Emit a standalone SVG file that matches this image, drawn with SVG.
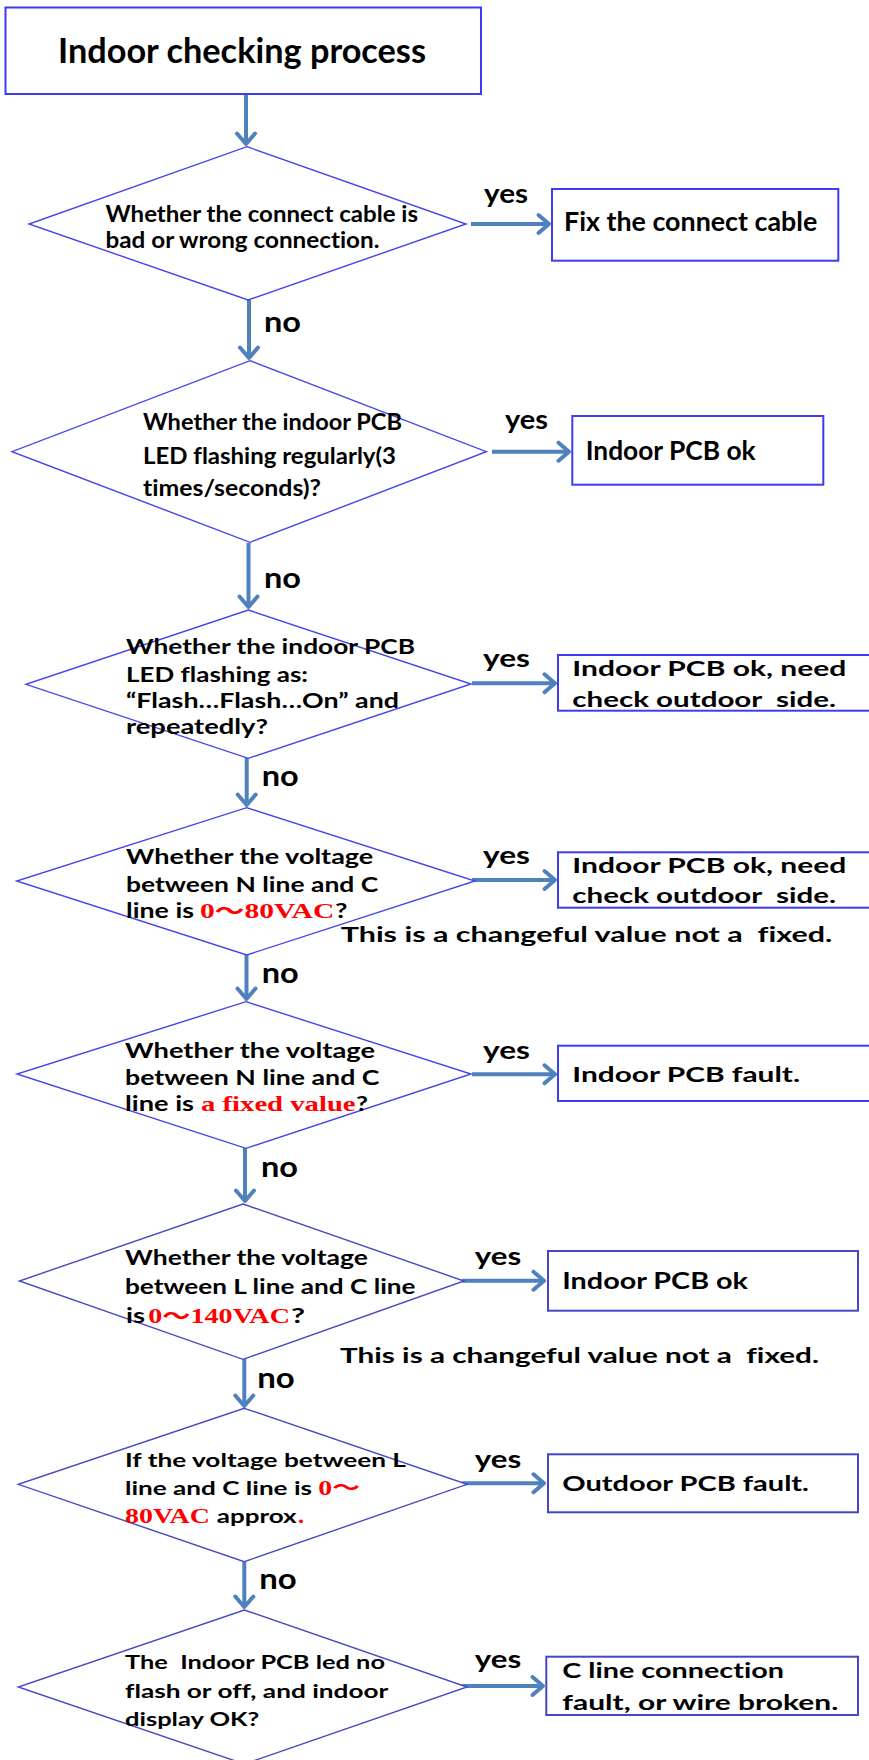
<svg xmlns="http://www.w3.org/2000/svg" width="869" height="1760" viewBox="0 0 869 1760">
<style>
  .box{fill:#fff;stroke:#3c3cf2;stroke-width:2}
  .box2{fill:#fff;stroke:#4646c4;stroke-width:2}
  .dia{fill:#fff;stroke:#4444ee;stroke-width:1.4}
  .dia2{fill:#fff;stroke:#4848c6;stroke-width:1.4}
  .conn{stroke:#4f81bd;stroke-width:4;fill:none}
  text{font-family:Lato,'Liberation Sans',sans-serif;font-weight:bold;fill:#000;font-variant-ligatures:none}
  .red{font-family:'Liberation Serif','Noto Sans CJK SC',serif;fill:#ff0000}
  .pre{white-space:pre}
</style>
<defs>
  <marker id="arr" viewBox="-14 -12 18 24" refX="0" refY="0" markerWidth="18" markerHeight="24" markerUnits="userSpaceOnUse" orient="auto">
    <path d="M-10.5,-9 L0,0 L-10.5,9" fill="none" stroke="#4f81bd" stroke-width="4" stroke-linecap="round" stroke-linejoin="round"/>
  </marker>
</defs>

<rect width="869" height="1760" fill="#fff"/>

<g id="connectors">
  <line class="conn" x1="246" y1="94" x2="246" y2="144" marker-end="url(#arr)"/>
  <line class="conn" x1="249" y1="300" x2="249" y2="358" marker-end="url(#arr)"/>
  <line class="conn" x1="248.5" y1="543" x2="248.5" y2="607" marker-end="url(#arr)"/>
  <line class="conn" x1="246.7" y1="758" x2="246.7" y2="805" marker-end="url(#arr)"/>
  <line class="conn" x1="246.5" y1="955" x2="246.5" y2="999" marker-end="url(#arr)"/>
  <line class="conn" x1="245" y1="1148" x2="245" y2="1201" marker-end="url(#arr)"/>
  <line class="conn" x1="244.3" y1="1359" x2="244.3" y2="1406" marker-end="url(#arr)"/>
  <line class="conn" x1="244.3" y1="1562" x2="244.3" y2="1607" marker-end="url(#arr)"/>

  <line class="conn" x1="471" y1="224" x2="549" y2="224" marker-end="url(#arr)"/>
  <line class="conn" x1="492" y1="451.7" x2="569" y2="451.7" marker-end="url(#arr)"/>
  <line class="conn" x1="472" y1="683.3" x2="555" y2="683.3" marker-end="url(#arr)"/>
  <line class="conn" x1="472" y1="880" x2="555" y2="880" marker-end="url(#arr)"/>
  <line class="conn" x1="472" y1="1074.3" x2="555" y2="1074.3" marker-end="url(#arr)"/>
  <line class="conn" x1="462" y1="1280.7" x2="544" y2="1280.7" marker-end="url(#arr)"/>
  <line class="conn" x1="462" y1="1483.3" x2="544" y2="1483.3" marker-end="url(#arr)"/>
  <line class="conn" x1="462" y1="1686" x2="543" y2="1686" marker-end="url(#arr)"/>

  <text x="484" y="203.3" font-size="26" textLength="44" lengthAdjust="spacingAndGlyphs">yes</text>
  <text x="505" y="429.3" font-size="26" textLength="43" lengthAdjust="spacingAndGlyphs">yes</text>
  <text x="483" y="667.3" font-size="25" textLength="47" lengthAdjust="spacingAndGlyphs">yes</text>
  <text x="483" y="864" font-size="25" textLength="47" lengthAdjust="spacingAndGlyphs">yes</text>
  <text x="483" y="1059.3" font-size="25" textLength="47" lengthAdjust="spacingAndGlyphs">yes</text>
  <text x="474.7" y="1265" font-size="25" textLength="46.5" lengthAdjust="spacingAndGlyphs">yes</text>
  <text x="474.7" y="1467.7" font-size="25" textLength="46.5" lengthAdjust="spacingAndGlyphs">yes</text>
  <text x="474.7" y="1668.3" font-size="25" textLength="46.5" lengthAdjust="spacingAndGlyphs">yes</text>

  <text x="264" y="331.7" font-size="29" textLength="37" lengthAdjust="spacingAndGlyphs">no</text>
  <text x="264" y="588.3" font-size="29" textLength="37" lengthAdjust="spacingAndGlyphs">no</text>
  <text x="261.7" y="786" font-size="29" textLength="37" lengthAdjust="spacingAndGlyphs">no</text>
  <text x="261.7" y="982.7" font-size="29" textLength="37" lengthAdjust="spacingAndGlyphs">no</text>
  <text x="261" y="1176.7" font-size="29" textLength="37" lengthAdjust="spacingAndGlyphs">no</text>
  <text x="257.3" y="1388.3" font-size="29" textLength="37.5" lengthAdjust="spacingAndGlyphs">no</text>
  <text x="259.3" y="1589.3" font-size="29" textLength="37.5" lengthAdjust="spacingAndGlyphs">no</text>
</g>

<g id="start">
  <rect class="box" x="5.5" y="7.5" width="475.5" height="86.5"/>
  <text x="58" y="63.3" font-size="34" textLength="368" lengthAdjust="spacingAndGlyphs">Indoor checking process</text>
</g>

<g id="q1">
  <polygon class="dia" points="247,146.7 466,224 248,300 29,224"/>
  <text x="105.5" y="221.7" font-size="22" textLength="312.5" lengthAdjust="spacingAndGlyphs">Whether the connect cable is</text>
  <text x="105.5" y="248.3" font-size="22" textLength="274" lengthAdjust="spacingAndGlyphs">bad or wrong connection.</text>
</g>
<g id="r1">
  <rect class="box" x="552" y="189" width="286.3" height="71.7"/>
  <text x="564" y="231" font-size="27" textLength="253.3" lengthAdjust="spacingAndGlyphs">Fix the connect cable</text>
</g>

<g id="q2">
  <polygon class="dia" points="250,360.7 486.3,451.7 250,542.3 12,451.7"/>
  <text x="143" y="430" font-size="22" textLength="259" lengthAdjust="spacingAndGlyphs">Whether the indoor PCB</text>
  <text x="143" y="464" font-size="22" textLength="253" lengthAdjust="spacingAndGlyphs">LED flashing regularly(3</text>
  <text x="143" y="495.7" font-size="22" textLength="178" lengthAdjust="spacingAndGlyphs">times/seconds)?</text>
</g>
<g id="r2">
  <rect class="box" x="572.3" y="416" width="251" height="68.7"/>
  <text x="585.7" y="460" font-size="26" textLength="170" lengthAdjust="spacingAndGlyphs">Indoor PCB ok</text>
</g>

<g id="q3">
  <polygon class="dia" points="248.3,610 471,684 248.3,758.3 26,684.3"/>
  <text x="126" y="654.3" font-size="20" textLength="289" lengthAdjust="spacingAndGlyphs">Whether the indoor PCB</text>
  <text x="126" y="681.7" font-size="20" textLength="182" lengthAdjust="spacingAndGlyphs">LED flashing as:</text>
  <text x="126" y="707.7" font-size="20" textLength="273" lengthAdjust="spacingAndGlyphs">“Flash…Flash…On” and</text>
  <text x="126" y="734" font-size="20" textLength="142" lengthAdjust="spacingAndGlyphs">repeatedly?</text>
</g>
<g id="r3">
  <rect class="box" x="558" y="655" width="330" height="55.7"/>
  <text x="572.3" y="676" font-size="21" textLength="274" lengthAdjust="spacingAndGlyphs">Indoor PCB ok, need</text>
  <text class="pre" x="572.3" y="706.7" font-size="21" textLength="263.7" lengthAdjust="spacingAndGlyphs">check outdoor  side.</text>
</g>

<g id="q4">
  <polygon class="dia" points="246.7,807.7 475,881 246.7,955 16.7,881"/>
  <text x="126" y="864" font-size="20" textLength="247.3" lengthAdjust="spacingAndGlyphs">Whether the voltage</text>
  <text x="126" y="891.7" font-size="20" textLength="252.3" lengthAdjust="spacingAndGlyphs">between N line and C</text>
  <text x="126" y="918.3" font-size="20" textLength="68" lengthAdjust="spacingAndGlyphs">line is</text>
  <text class="red" x="200" y="918.3" font-size="21" textLength="134.3" lengthAdjust="spacingAndGlyphs">0～80VAC</text>
  <text x="335" y="918.3" font-size="20" textLength="12.5" lengthAdjust="spacingAndGlyphs">?</text>
</g>
<g id="r4">
  <rect class="box" x="558" y="852.3" width="330" height="55.4"/>
  <text x="572.3" y="873.3" font-size="21" textLength="274" lengthAdjust="spacingAndGlyphs">Indoor PCB ok, need</text>
  <text class="pre" x="572.3" y="903.3" font-size="21" textLength="263.7" lengthAdjust="spacingAndGlyphs">check outdoor  side.</text>
</g>
<g id="note1">
  <text class="pre" x="340.7" y="942.3" font-size="21" textLength="491.6" lengthAdjust="spacingAndGlyphs">This is a changeful value not a  fixed.</text>
</g>

<g id="q5">
  <polygon class="dia" points="246,1001.7 471,1074 246,1148.3 17,1074"/>
  <text x="125" y="1058.3" font-size="20" textLength="250" lengthAdjust="spacingAndGlyphs">Whether the voltage</text>
  <text x="125" y="1085" font-size="20" textLength="254.4" lengthAdjust="spacingAndGlyphs">between N line and C</text>
  <text x="125" y="1110.7" font-size="20" textLength="69" lengthAdjust="spacingAndGlyphs">line is</text>
  <text class="red" x="201" y="1110.7" font-size="21" textLength="154.6" lengthAdjust="spacingAndGlyphs">a fixed value</text>
  <text x="356" y="1110.7" font-size="20" textLength="12" lengthAdjust="spacingAndGlyphs">?</text>
</g>
<g id="r5">
  <rect class="box" x="558" y="1045.7" width="330" height="55.3"/>
  <text x="572.3" y="1081.7" font-size="21" textLength="227.7" lengthAdjust="spacingAndGlyphs">Indoor PCB fault.</text>
</g>

<g id="q6">
  <polygon class="dia2" points="243,1204 464,1281 243,1359.3 19.4,1281"/>
  <text x="125" y="1265" font-size="20" textLength="243" lengthAdjust="spacingAndGlyphs">Whether the voltage</text>
  <text x="125" y="1294" font-size="20" textLength="290.6" lengthAdjust="spacingAndGlyphs">between L line and C line</text>
  <text x="126" y="1322.7" font-size="20" textLength="19" lengthAdjust="spacingAndGlyphs">is</text>
  <text class="red" x="148.3" y="1322.7" font-size="21" textLength="141.7" lengthAdjust="spacingAndGlyphs">0～140VAC</text>
  <text x="291" y="1322.7" font-size="20" textLength="14" lengthAdjust="spacingAndGlyphs">?</text>
</g>
<g id="r6">
  <rect class="box2" x="548" y="1251" width="310" height="59.7"/>
  <text x="562.3" y="1289" font-size="22" textLength="185.7" lengthAdjust="spacingAndGlyphs">Indoor PCB ok</text>
</g>
<g id="note2">
  <text class="pre" x="340" y="1362.7" font-size="21" textLength="479" lengthAdjust="spacingAndGlyphs">This is a changeful value not a  fixed.</text>
</g>

<g id="q7">
  <polygon class="dia2" points="244.3,1408.3 467,1484.3 244.3,1561.7 18.3,1484.3"/>
  <text x="125" y="1466.7" font-size="19" textLength="281" lengthAdjust="spacingAndGlyphs">If the voltage between L</text>
  <text x="125" y="1495" font-size="19" textLength="187" lengthAdjust="spacingAndGlyphs">line and C line is</text>
  <text class="red" x="318.3" y="1495" font-size="20" textLength="41.7" lengthAdjust="spacingAndGlyphs">0～</text>
  <text class="red" x="125" y="1522.7" font-size="20" textLength="85" lengthAdjust="spacingAndGlyphs">80VAC</text>
  <text x="216.7" y="1522.7" font-size="19" textLength="80" lengthAdjust="spacingAndGlyphs">approx</text>
  <text class="red" x="298" y="1522.7" font-size="20" textLength="6" lengthAdjust="spacingAndGlyphs">.</text>
</g>
<g id="r7">
  <rect class="box2" x="548" y="1454.3" width="310" height="58"/>
  <text class="pre" x="562.3" y="1491" font-size="21" textLength="246.7" lengthAdjust="spacingAndGlyphs">Outdoor PCB fault.</text>
</g>

<g id="q8">
  <polygon class="dia2" points="244.3,1610 467,1687 244.3,1764 18.3,1687"/>
  <text class="pre" x="125" y="1669.3" font-size="19" textLength="260" lengthAdjust="spacingAndGlyphs">The  Indoor PCB led no</text>
  <text x="125" y="1698.3" font-size="19" textLength="263.3" lengthAdjust="spacingAndGlyphs">flash or off, and indoor</text>
  <text x="125" y="1726" font-size="19" textLength="134.3" lengthAdjust="spacingAndGlyphs">display OK?</text>
</g>
<g id="r8">
  <rect class="box2" x="546.3" y="1656.7" width="311.7" height="58.3"/>
  <text x="562.3" y="1678.3" font-size="21" textLength="221.7" lengthAdjust="spacingAndGlyphs">C line connection</text>
  <text x="562.3" y="1710" font-size="21" textLength="276" lengthAdjust="spacingAndGlyphs">fault, or wire broken.</text>
</g>
</svg>
